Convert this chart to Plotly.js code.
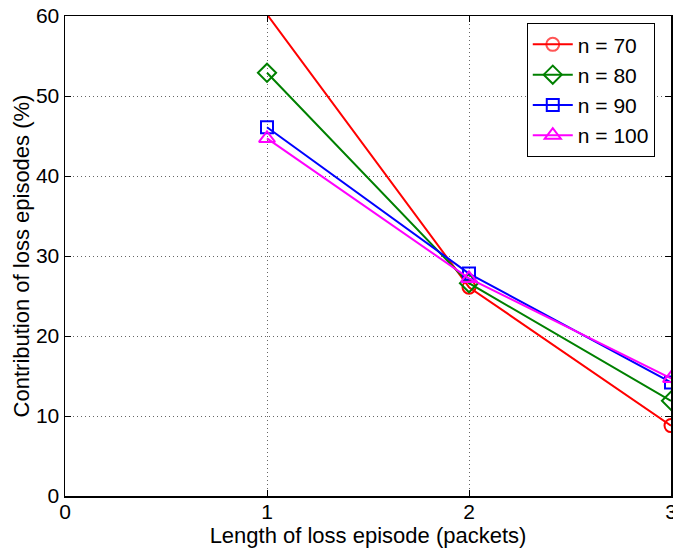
<!DOCTYPE html>
<html>
<head>
<meta charset="utf-8">
<script src="https://cdn.plot.ly/plotly-3.0.1.min.js"></script>
<style>html,body{margin:0;padding:0;background:#fff;overflow:hidden}#chart{width:673px;height:548px}</style>
</head>
<body>
<div id="chart"></div>
<script>
const lengths = [1, 2, 3];
const n70 = [60.2, 26.1, 8.8];
const n80 = [52.9, 26.6, 11.9];
const n90 = [46.1, 27.8, 14.2];
const n100 = [44.7, 27.2, 14.7];
const seriesNames = ['n = 70', 'n = 80', 'n = 90', 'n = 100'];
const xTicks = [0, 1, 2, 3];
const yTicks = [0, 10, 20, 30, 40, 50, 60];

const colors = ['#ff0000', '#008000', '#0000ff', '#ff00ff'];
const symbols = ['circle-open', 'diamond-open', 'square-open', 'triangle-up-open'];
const sizes = [13, 14, 12, 14];
const allY = [n70, n80, n90, n100];
const yMax = 60;

const traces = allY.map((ys, i) => ({
  x: lengths, y: ys, name: seriesNames[i], type: 'scatter', mode: 'lines+markers',
  line: {color: colors[i], width: 2},
  marker: {symbol: symbols[i], size: sizes[i], color: colors[i], line: {color: colors[i], width: 2},
           opacity: ys.map(v => v > yMax ? 0 : 1)},
  cliponaxis: true
}));

const fam = 'Liberation Sans, Arial, sans-serif';
const tickFont = {family: fam, size: 21, color: '#000'};
const titleFont = {family: fam, size: 22, color: '#000'};
const layout = {
  width: 673, height: 548,
  margin: {l: 65, r: 2, t: 16, b: 52},
  paper_bgcolor: '#fff', plot_bgcolor: '#fff',
  font: tickFont,
  showlegend: true,
  legend: {x: 0.762, y: 0.985, xanchor: 'left', yanchor: 'top', bgcolor: '#fff',
           bordercolor: '#000', borderwidth: 1, font: {family: fam, size: 21, color: '#000'},
           tracegroupgap: 0, itemwidth: 40},
  xaxis: {range: [0, 3], tickvals: xTicks, ticktext: xTicks.map(String),
          showgrid: true, gridcolor: '#666', griddash: '1px,3px', gridwidth: 1,
          zeroline: false, showline: true, linecolor: '#000', linewidth: 1.5, mirror: 'ticks',
          ticks: 'inside', ticklen: 6, tickcolor: '#000', tickfont: tickFont,
          ticklabeloverflow: 'allow', ticklabelstandoff: -4,
          title: {text: 'Length of loss episode (packets)', font: titleFont, standoff: 0}},
  yaxis: {range: [0, 60], tickvals: yTicks, ticktext: yTicks.map(String),
          showgrid: true, gridcolor: '#666', griddash: '1px,3px', gridwidth: 1,
          zeroline: false, showline: true, linecolor: '#000', linewidth: 1.5, mirror: 'ticks',
          ticks: 'inside', ticklen: 6, tickcolor: '#000', tickfont: tickFont,
          title: {text: 'Contribution of loss episodes (%)', font: titleFont, standoff: 0}}
};
Plotly.newPlot('chart', traces, layout, {displayModeBar: false, staticPlot: true});
</script>
</body>
</html>
